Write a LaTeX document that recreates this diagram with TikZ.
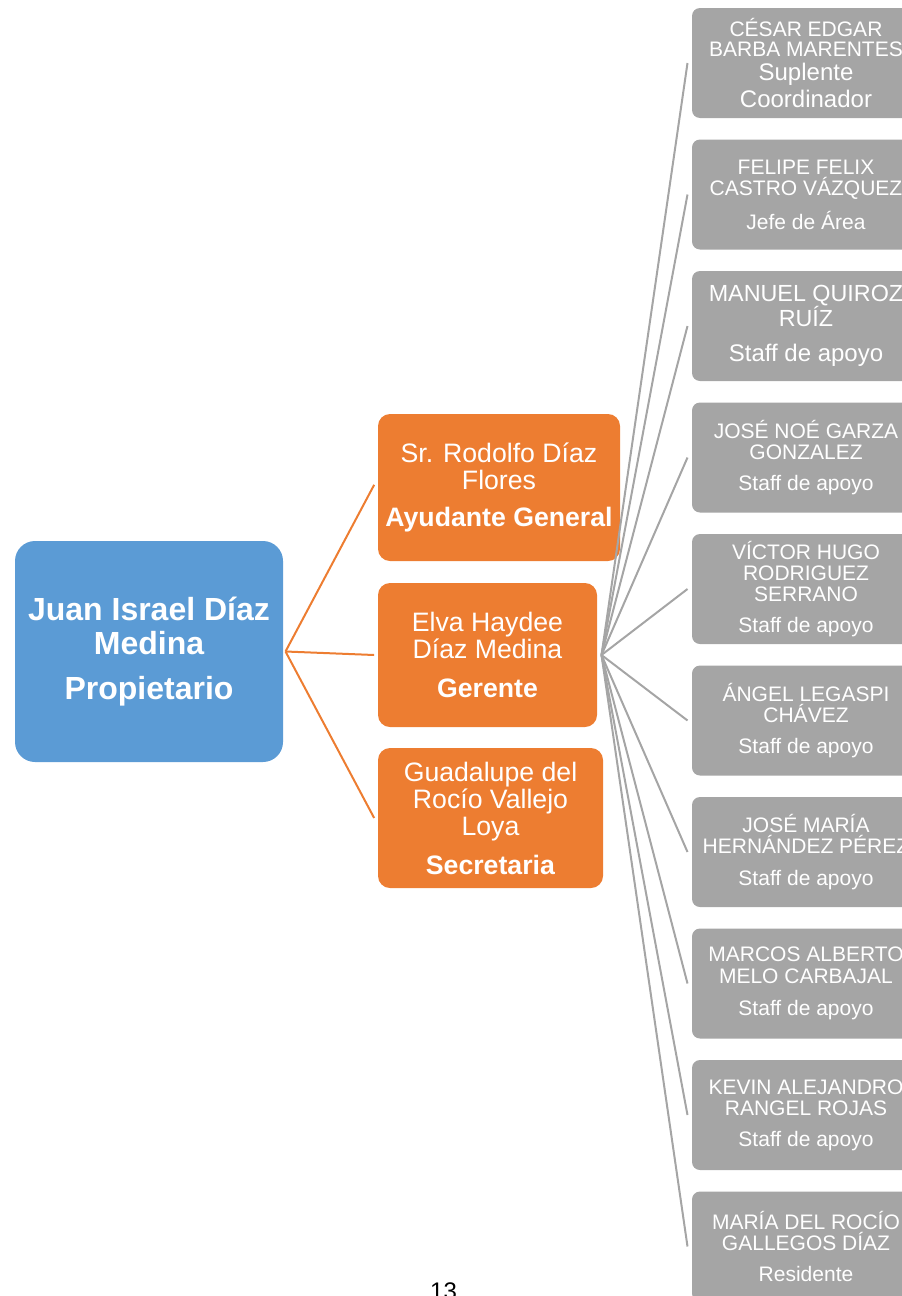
\documentclass[tikz,border=0pt]{standalone}
\usepackage{fontspec}
\setmainfont{Liberation Sans}

\definecolor{azulDueno}{RGB}{91,155,213}
\definecolor{naranjaMando}{RGB}{237,125,49}
\definecolor{grisApoyo}{RGB}{165,165,165}

\tikzset{every picture/.style={line width=0.75pt}}
\tikzset{
  duenobox/.style={fill=azulDueno, rounded corners=15pt, text=white, align=center, inner sep=0pt,
    font=\fontsize{24}{25.5}\selectfont\bfseries, minimum width=201pt, minimum height=165.75pt},
  mandobox/.style={fill=naranjaMando, rounded corners=9pt, text=white, align=center, inner sep=0pt,
    font=\fontsize{20}{20.6}\selectfont},
  apoyobox/.style={fill=grisApoyo, rounded corners=6pt, text=white, align=center, inner sep=0pt,
    font=\fontsize{15.75}{16}\selectfont, minimum width=171pt, minimum height=82.5pt},
  naranjaline/.style={draw=naranjaMando, line width=1.5pt},
  grisline/.style={draw=grisApoyo, line width=1.5pt}
}

\begin{document}
\begin{tikzpicture}[x=0.75pt,y=0.75pt,yscale=-1,xscale=1]
\useasboundingbox (0,0) rectangle (902,1296);
\clip (0,0) rectangle (902,1296);

%Shape: Rounded Rect [id:propietario]
\node (propietario) [duenobox] at (149,651.5) {Juan Israel Díaz\\Medina\\[8.25pt]Propietario};

%Shape: Rounded Rect [id:rodolfo]
\node (rodolfo) [mandobox, minimum width=181.5pt, minimum height=110.25pt] at (499,487.5) {Sr. Rodolfo Díaz\\Flores\\[7pt]\textbf{Ayudante General}};
%Shape: Rounded Rect [id:elva]
\node (elva) [mandobox, minimum width=164.25pt, minimum height=108pt] at (487.5,655) {Elva Haydee\\Díaz Medina\\[8.5pt]\textbf{Gerente}};
%Shape: Rounded Rect [id:guadalupe]
\node (guadalupe) [mandobox, minimum width=168.75pt, minimum height=105pt] at (490.5,818) {Guadalupe del\\Rocío Vallejo\\Loya\\[8pt]\textbf{Secretaria}};

%Shape: Rounded Rect [id:cesar]
\node (cesar) [apoyobox] at (806,63) {CÉSAR EDGAR\\[-1.5pt]BARBA MARENTES\\[2.5pt]{\fontsize{18}{18}\selectfont Suplente}\\[2.2pt]{\fontsize{18}{18}\selectfont Coordinador}};
%Shape: Rounded Rect [id:felipe]
\node (felipe) [apoyobox] at (806,194.5) {FELIPE FELIX\\CASTRO VÁZQUEZ\\[7.5pt]Jefe de Área};
%Shape: Rounded Rect [id:manuel]
\node (manuel) [apoyobox, font=\fontsize{17.5}{19}\selectfont] at (806,326) {MANUEL QUIROZ\\RUÍZ\\[7pt]{\fontsize{18}{19}\selectfont Staff de apoyo}};
%Shape: Rounded Rect [id:josenoe]
\node (josenoe) [apoyobox] at (806,457.5) {JOSÉ NOÉ GARZA\\GONZALEZ\\[7pt]Staff de apoyo};
%Shape: Rounded Rect [id:victor]
\node (victor) [apoyobox] at (806,589) {VÍCTOR HUGO\\RODRIGUEZ\\SERRANO\\[7pt]Staff de apoyo};
%Shape: Rounded Rect [id:angel]
\node (angel) [apoyobox] at (806,720.5) {ÁNGEL LEGASPI\\CHÁVEZ\\[7pt]Staff de apoyo};
%Shape: Rounded Rect [id:josemaria]
\node (josemaria) [apoyobox] at (806,852) {JOSÉ MARÍA\\HERNÁNDEZ PÉREZ\\[7.5pt]Staff de apoyo};
%Shape: Rounded Rect [id:marcos]
\node (marcos) [apoyobox] at (806,983.5) {MARCOS ALBERTO\\MELO CARBAJAL\\[8pt]Staff de apoyo};
%Shape: Rounded Rect [id:kevin]
\node (kevin) [apoyobox] at (806,1115) {KEVIN ALEJANDRO\\RANGEL ROJAS\\[7pt]Staff de apoyo};
%Shape: Rounded Rect [id:mariarocio]
\node (mariarocio) [apoyobox] at (806,1246.5) {MARÍA DEL ROCÍO\\GALLEGOS DÍAZ\\[7pt]Residente};

%Straight Lines [id:propietario-rodolfo]
\draw [naranjaline] ([xshift=1.5pt]propietario.east) -- ([xshift=-2.5pt,yshift=-2pt]rodolfo.west);
%Straight Lines [id:propietario-elva]
\draw [naranjaline] ([xshift=1.5pt]propietario.east) -- ([xshift=-2.5pt]elva.west);
%Straight Lines [id:propietario-guadalupe]
\draw [naranjaline] ([xshift=1.5pt]propietario.east) -- ([xshift=-2.5pt]guadalupe.west);

%Straight Lines [id:elva-cesar]
\draw [grisline] ([xshift=3pt]elva.east) -- ([xshift=-3pt]cesar.west);
%Straight Lines [id:elva-felipe]
\draw [grisline] ([xshift=3pt]elva.east) -- ([xshift=-3pt]felipe.west);
%Straight Lines [id:elva-manuel]
\draw [grisline] ([xshift=3pt]elva.east) -- ([xshift=-3pt]manuel.west);
%Straight Lines [id:elva-josenoe]
\draw [grisline] ([xshift=3pt]elva.east) -- ([xshift=-3pt]josenoe.west);
%Straight Lines [id:elva-victor]
\draw [grisline] ([xshift=3pt]elva.east) -- ([xshift=-3pt]victor.west);
%Straight Lines [id:elva-angel]
\draw [grisline] ([xshift=3pt]elva.east) -- ([xshift=-3pt]angel.west);
%Straight Lines [id:elva-josemaria]
\draw [grisline] ([xshift=3pt]elva.east) -- ([xshift=-3pt]josemaria.west);
%Straight Lines [id:elva-marcos]
\draw [grisline] ([xshift=3pt]elva.east) -- ([xshift=-3pt]marcos.west);
%Straight Lines [id:elva-kevin]
\draw [grisline] ([xshift=3pt]elva.east) -- ([xshift=-3pt]kevin.west);
%Straight Lines [id:elva-mariarocio]
\draw [grisline] ([xshift=3pt]elva.east) -- ([xshift=-3pt]mariarocio.west);

% Text Node
\node (pagina) [anchor=base, inner sep=0pt, font=\fontsize{18}{18}\selectfont] at (443.5,1299) {13};

\end{tikzpicture}
\end{document}
